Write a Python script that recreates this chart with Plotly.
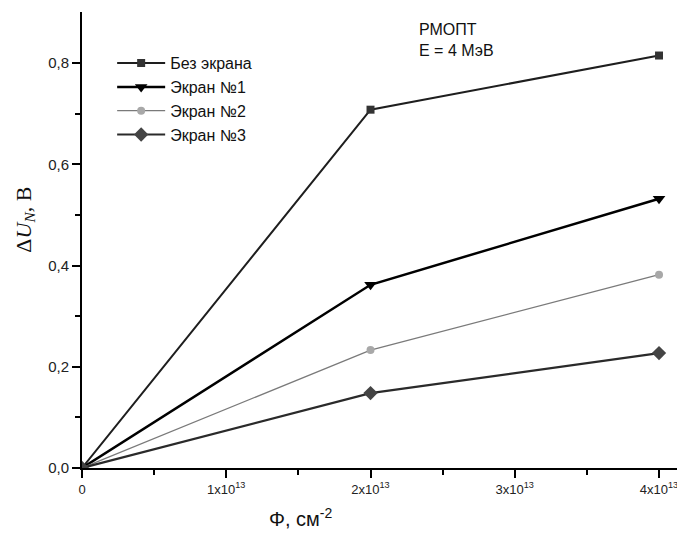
import plotly.graph_objects as go

x_vals = [0, 2e13, 4e13]
y_none = [0.0, 0.708, 0.815]
y_s1 = [0.0, 0.362, 0.532]
y_s2 = [0.0, 0.233, 0.382]
y_s3 = [0.0, 0.148, 0.227]

series_names = ["Без экрана", "Экран №1", "Экран №2", "Экран №3"]
x_tickvals = [0, 1e13, 2e13, 3e13, 4e13]
x_ticktext = ["0", "1x10<sup>13</sup>", "2x10<sup>13</sup>", "3x10<sup>13</sup>", "4x10<sup>13</sup>"]
y_tickvals = [0, 0.2, 0.4, 0.6, 0.8]
y_ticktext = ["0,0", "0,2", "0,4", "0,6", "0,8"]

styles = [
    dict(line=dict(color="#1e1e1e", width=2), marker=dict(symbol="square", size=8, color="#333333")),
    dict(line=dict(color="#000000", width=2.5), marker=dict(symbol="triangle-down", size=11, color="#000000")),
    dict(line=dict(color="#7a7a7a", width=1.3), marker=dict(symbol="circle", size=8, color="#a8a8a8")),
    dict(line=dict(color="#2a2a2a", width=2.2), marker=dict(symbol="diamond", size=11, color="#444444")),
]

fig = go.Figure()
for name, ys, st in zip(series_names, [y_none, y_s1, y_s2, y_s3], styles):
    fig.add_trace(go.Scatter(x=x_vals, y=ys, mode="lines+markers", name=name,
                             line=st["line"], marker=st["marker"]))

fig.add_annotation(text="РМОПТ<br>E = 4 МэВ", xref="paper", yref="paper",
                   x=0.555, y=0.985, xanchor="left", yanchor="top", showarrow=False, align="left",
                   font=dict(family="Arial, Liberation Sans", size=16, color="#111"))

fig.add_annotation(text="Φ, см<sup>-2</sup>", xref="paper", yref="paper",
                   x=0.362, y=-0.077, xanchor="center", yanchor="top", showarrow=False,
                   font=dict(family="Arial, Liberation Sans", size=20, color="#111"))

fig.add_annotation(text="Δ<i>U</i><sub><i>N</i></sub>, В", xref="paper", yref="paper",
                   x=-0.095, y=0.544, xanchor="center", yanchor="middle", showarrow=False, textangle=-90,
                   font=dict(family="Liberation Serif, Times New Roman", size=22, color="#111"))

# The page body has an 8px default margin; size the figure so the plot lands where the reference has it.
fig.update_layout(
    width=677, height=530,
    margin=dict(l=74, r=0, t=4, b=70),
    paper_bgcolor="white", plot_bgcolor="white",
    font=dict(family="Arial, Liberation Sans", color="#111"),
    showlegend=True,
    legend=dict(x=0.05, y=0.925, xanchor="left", yanchor="top", bgcolor="rgba(0,0,0,0)",
                font=dict(size=16, color="#111"), itemwidth=48, tracegroupgap=0),
    xaxis=dict(range=[0, 4.18e13], showgrid=False, zeroline=False, showline=True, automargin=False,
               linecolor="black", linewidth=2, ticks="outside", ticklen=8, tickwidth=2,
               tickcolor="black", tickvals=x_tickvals, ticktext=x_ticktext,
               tickfont=dict(size=13, color="#222"),
               minor=dict(tickvals=[0.5e13, 1.5e13, 2.5e13, 3.5e13], ticks="outside", ticklen=5, tickwidth=2, tickcolor="black")),
    yaxis=dict(range=[0, 0.901], showgrid=False, zeroline=False, showline=True, automargin=False,
               linecolor="black", linewidth=2, ticks="outside", ticklen=8, tickwidth=2,
               tickcolor="black", tickvals=y_tickvals, ticktext=y_ticktext,
               tickfont=dict(size=15, color="#222"),
               minor=dict(tickvals=[0.1, 0.3, 0.5, 0.7], ticks="outside", ticklen=5, tickwidth=2, tickcolor="black")),
)

fig.write_html("out.html")
